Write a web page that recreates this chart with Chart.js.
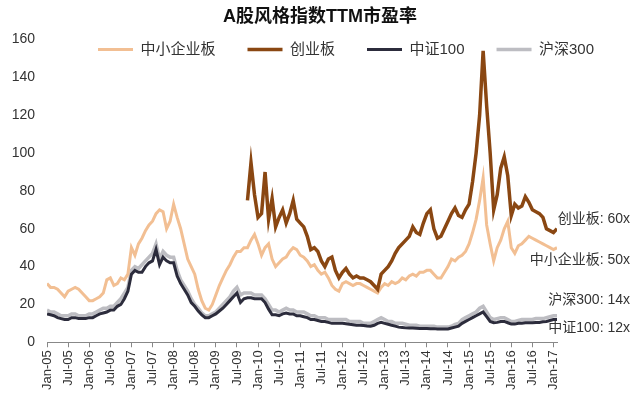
<!DOCTYPE html>
<html>
<head>
<meta charset="utf-8">
<script src="https://cdn.jsdelivr.net/npm/chart.js@4/dist/chart.umd.min.js"></script>
<style>
  body { margin: 0; background: #fff; }
</style>
</head>
<body>
<canvas id="pe" width="640" height="400"></canvas>
<script>
// monthly values, Jan-05 .. Feb-17
const tickLabels = ["Jan-05", "Jul-05", "Jan-06", "Jul-06", "Jan-07", "Jul-07", "Jan-08", "Jul-08",
    "Jan-09", "Jul-09", "Jan-10", "Jul-10", "Jan-11", "Jul-11", "Jan-12", "Jul-12",
    "Jan-13", "Jul-13", "Jan-14", "Jul-14", "Jan-15", "Jul-15", "Jan-16", "Jul-16", "Jan-17"];

const seriesNames = ["中小企业板", "创业板", "中证100", "沪深300"];

const sme = [
    31, 29, 29, 28, 26, 24, 27, 28, 29, 28, 26, 24,
    22, 22, 23, 24, 26, 33, 34, 30, 31, 34, 33, 36,
    50, 46, 52, 55, 59, 62, 64, 68, 70, 69, 60, 64,
    73, 66, 60, 52, 44, 40, 36, 28, 22, 18, 17, 20,
    25, 30, 34, 38, 41, 45, 48, 48, 50, 50, 54, 57,
    52, 46, 50, 52, 44, 40, 42, 44, 45, 48, 50, 49,
    46, 45, 43, 40, 41, 38, 36, 37, 34, 30, 28, 27,
    31, 32, 31, 30, 31, 31, 30, 29, 28, 27, 26, 29,
    31, 30, 32, 31, 32, 34, 33, 35, 36, 35, 37, 37,
    38, 38, 36, 34, 34, 37, 40, 44, 43, 45, 46, 48,
    52, 58, 65, 75, 87, 62, 52, 43, 50, 54, 60, 64,
    50, 47, 51, 52, 54, 56, 55, 54, 53, 52, 51, 50,
    49, 50
];

// 创业板 starts Oct-09 (month 57)
const chinextStart = 57;
const chinext = [
    75, 95, 78,
    66, 68, 90, 65, 76, 61, 66, 70, 63, 68, 75, 65,
    63, 61, 56, 49, 50, 48, 43, 40, 44, 45, 38, 34,
    37, 39, 36, 34, 35, 34, 34, 33, 32, 30, 28, 36,
    38, 40, 43, 47, 50, 52, 54, 56, 61, 58, 57, 63,
    68, 70, 60, 55, 56, 60, 64, 68, 71, 67, 66, 70,
    73, 85, 100, 120, 154, 125, 100, 70, 78, 92, 98, 88,
    67, 73, 71, 72, 77, 74, 70, 69, 68, 66, 60, 59,
    58, 60
];

const csi100 = [
    15, 14.5, 14, 13, 12.5, 12, 12, 13, 13, 12.5, 12.5, 12.5,
    13, 13, 14, 15, 15.5, 16, 17, 17, 19, 20, 23, 27,
    36, 38, 37, 37, 40, 42, 43, 49, 41, 45, 43, 42,
    42, 35, 31, 28, 25, 21, 19, 16.5, 14.5, 13, 13, 14,
    15, 16.5, 18, 20, 22, 24, 26, 21, 23, 23.5, 23.5, 23,
    23, 23, 21, 17.5, 14.5, 14.5, 14, 15, 15.5, 15, 15, 14,
    14, 13.5, 13, 12, 12, 11.5, 11, 11, 10.5, 10, 10, 10,
    10, 9.8, 9.5, 9.3, 9, 9, 8.8, 8.6, 8.5, 9, 10, 10.5,
    10, 9.5, 9, 8.5, 8, 7.8, 7.6, 7.5, 7.5, 7.4, 7.3, 7.3,
    7.3, 7.2, 7.2, 7, 7, 7, 7, 7.5, 8, 8.5, 10, 11,
    12, 13, 14, 15, 16, 13.5, 11, 10.3, 10.5, 11, 11, 10.3,
    9.6, 9.6, 10, 10, 10.3, 10.3, 10.3, 10.5, 10.5, 10.8, 11, 11.5,
    12, 12
];

const hs300 = [
    17, 16, 16, 15, 14, 14, 14, 15, 15, 14, 14, 14,
    15, 15, 16, 17, 18, 18, 19, 19, 21, 23, 26, 29,
    38, 40, 39, 41, 43, 45, 47, 52, 44, 48, 46, 45,
    45, 38, 33, 30, 27, 23, 20, 18, 15.5, 14, 14, 15,
    16, 18, 20, 22, 24, 27, 29, 25, 26, 26, 26, 25,
    25, 25, 23, 20, 17, 17, 16, 17, 18, 17, 17, 16,
    16, 16, 15, 14, 14, 13, 13, 13, 12, 12, 12, 12,
    12, 12, 11, 11, 11, 11, 10, 10, 10, 11, 12, 13,
    12, 11, 11, 10, 10, 10, 9.5, 9, 9, 9, 8.5, 8.5,
    8.5, 8.5, 8.5, 8, 8, 8, 8, 8.5, 9.5, 10, 12, 13,
    14, 15, 16, 18, 19, 16, 13, 12, 12.5, 13, 13, 12,
    11, 11, 11.5, 12, 12, 12, 12, 12.5, 12.5, 12.5, 13, 13.5,
    14, 14
];

const endNotes = ["创业板: 60x", "中小企业板: 50x", "沪深300: 14x", "中证100: 12x"];
const endNoteAt = [65, 43.5, 22, 7.5];

const cjk = "'Liberation Sans', 'Noto Sans CJK SC', sans-serif";

function pts(arr, start) {
    return arr.map((v, i) => ({ x: i + start, y: v }));
}

// legend floats over the plot, title centred on the whole canvas
const placeBlocks = {
    id: "placeBlocks",
    beforeInit(chart) {
        const fit = chart.legend.fit;
        chart.legend.fit = function () {
            fit.call(this);
            this.height = 0;
        };
    },
    afterLayout(chart) {
        const lg = chart.legend;
        chart.titleBlock.left = 0;
        chart.titleBlock.right = chart.width;
        lg.left = 66;
        lg.right = chart.width;
        lg.top = 10;
        lg.bottom = 70;
        lg.width = lg.right - lg.left;
        lg.height = lg.bottom - lg.top;
    }
};

const endNotePlugin = {
    id: "endNotes",
    afterDatasetsDraw(chart) {
        const ctx = chart.ctx;
        const y = chart.scales.y;
        ctx.save();
        ctx.font = "14px " + cjk;
        ctx.fillStyle = "#333";
        ctx.textAlign = "right";
        ctx.textBaseline = "middle";
        endNotes.forEach((t, i) => {
            ctx.fillText(t, chart.width - 10, y.getPixelForValue(endNoteAt[i]));
        });
        ctx.restore();
    }
};

new Chart(document.getElementById("pe"), {
    type: "line",
    data: {
        datasets: [
            { label: seriesNames[0], data: pts(sme, 0), borderColor: "#F2BF93", backgroundColor: "#F2BF93", order: 1 },
            { label: seriesNames[1], data: pts(chinext, chinextStart), borderColor: "#8A4712", backgroundColor: "#8A4712", borderWidth: 3.5, order: 0 },
            { label: seriesNames[2], data: pts(csi100, 0), borderColor: "#2C2C3C", backgroundColor: "#2C2C3C", order: 2 },
            { label: seriesNames[3], data: pts(hs300, 0), borderColor: "#BDBDC2", backgroundColor: "#BDBDC2", borderWidth: 3.5, order: 3 }
        ]
    },
    options: {
        responsive: false,
        animation: false,
        layout: { padding: { left: 0, right: 83, bottom: 7 } },
        elements: {
            point: { radius: 0 },
            line: { borderWidth: 3, tension: 0 }
        },
        plugins: {
            title: {
                display: true,
                text: "A股风格指数TTM市盈率",
                color: "#111",
                font: { family: cjk, size: 18, weight: "bold" },
                padding: { top: 6, bottom: 12 }
            },
            legend: {
                position: "top",
                align: "start",
                labels: {
                    boxWidth: 35,
                    boxHeight: 0,
                    padding: 32,
                    color: "#333",
                    font: { family: cjk, size: 15 },
                    sort: (a, b) => a.datasetIndex - b.datasetIndex
                }
            },
            tooltip: { enabled: false }
        },
        scales: {
            x: {
                type: "linear",
                min: 0,
                max: 145,
                grid: { display: true, drawOnChartArea: false, drawTicks: true, tickLength: 5, color: "#888" },
                border: { display: true, color: "#888" },
                ticks: {
                    stepSize: 6,
                    includeBounds: false,
                    autoSkip: false,
                    maxRotation: 90,
                    minRotation: 90,
                    color: "#333",
                    font: { family: cjk, size: 13 },
                    callback: v => tickLabels[v / 6]
                }
            },
            y: {
                min: 0,
                max: 160,
                afterFit: s => { s.width = 47; },
                grid: { display: false, drawTicks: false },
                border: { display: false },
                ticks: {
                    stepSize: 20,
                    padding: 12,
                    color: "#333",
                    font: { family: cjk, size: 14 }
                }
            }
        }
    },
    plugins: [placeBlocks, endNotePlugin]
});
</script>
</body>
</html>
